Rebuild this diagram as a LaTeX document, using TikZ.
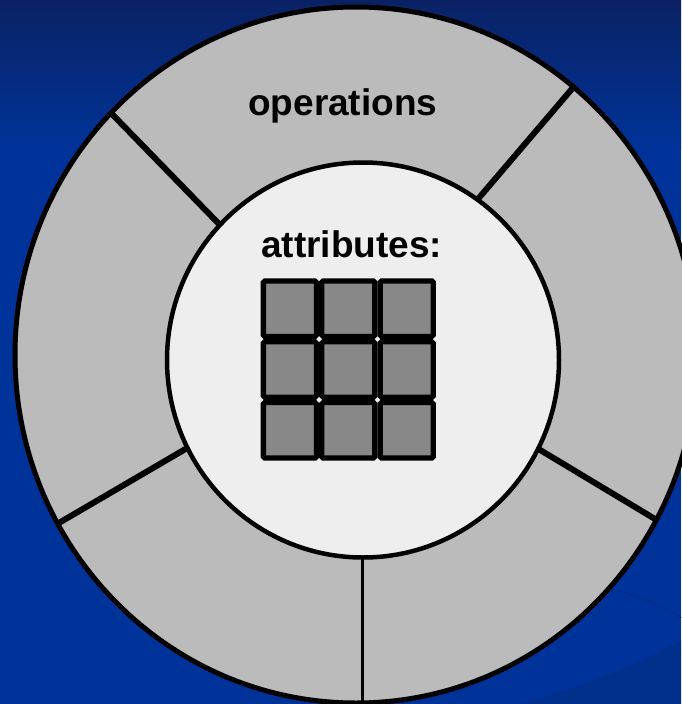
\documentclass[tikz,border=0pt]{standalone}
\usepackage{fontspec}
\setmainfont{Liberation Sans}
\usetikzlibrary{calc}
\begin{document}
\begin{tikzpicture}[x=1pt,y=-1pt,
  ringline/.style={line width=5pt, draw=black},
  divider/.style={line width=6pt, draw=black},
  thindivider/.style={line width=3pt, draw=black},
  cellbox/.style={draw=black, fill=cellgray, line width=5.3pt, rounded corners=1.5pt,
    minimum width=53.1pt, minimum height=55.5pt, inner sep=0pt, outer sep=0pt},
  label/.style={font=\fontsize{37}{44}\selectfont\bfseries, text=black, inner sep=0pt, anchor=base}]
\definecolor{bgtop}{RGB}{10,34,100}
\definecolor{bgmain}{RGB}{0,51,153}
\definecolor{swoosh}{RGB}{0,47,140}
\definecolor{ringgray}{RGB}{187,187,187}
\definecolor{innergray}{RGB}{238,238,238}
\definecolor{cellgray}{RGB}{136,136,136}
\useasboundingbox (0,0) rectangle (681,704);
% background
\fill[bgmain] (0,0) rectangle (681,704);
\shade[top color=bgtop, bottom color=bgmain] (0,0) rectangle (681,150);
\fill[swoosh] (520,704) .. controls (600,682) and (655,656) .. (681,640) -- (681,704) -- cycle;
\draw[swoosh, line width=2pt] (608,588) .. controls (640,596) and (665,607) .. (681,618);
% outer ring
\fill[ringgray] (356,355) ellipse [x radius=341, y radius=348];
\begin{scope}
  \clip (356,355) ellipse [x radius=341, y radius=348];
  \coordinate (o1) at (111,113);  \coordinate (i1) at (220,225);
  \coordinate (o2) at (571,90);   \coordinate (i2) at (478,199);
  \coordinate (o3) at (58.3,523.3); \coordinate (i3) at (186.7,448.3);
  \coordinate (o4) at (655,519);  \coordinate (i4) at (537.3,448.3);
  \coordinate (o5) at (362.5,704); \coordinate (i5) at (362.5,550);
  \draw[divider] ($(i1)!-0.1!(o1)$) -- ($(i1)!1.1!(o1)$);
  \draw[divider] ($(i2)!-0.1!(o2)$) -- ($(i2)!1.1!(o2)$);
  \draw[divider] ($(i3)!-0.1!(o3)$) -- ($(i3)!1.1!(o3)$);
  \draw[divider] ($(i4)!-0.1!(o4)$) -- ($(i4)!1.1!(o4)$);
  \draw[thindivider] (i5) -- (o5);
\end{scope}
\draw[ringline] (356,355) ellipse [x radius=341, y radius=348];
% inner disc
\draw[line width=4.5pt, fill=innergray] (363,360) ellipse [x radius=196, y radius=197.5];
% labels
\node[label] (ops) at (342.8,115) {operations};
\node[label] (attr) at (351.7,257) {attributes:};
% grid of attributes
\foreach \r/\yy in {1/308.7, 2/369.5, 3/430.3}{
  \foreach \c/\xx in {1/289.9, 2/348.3, 3/406.7}{
    \node[cellbox] (c\r\c) at (\xx,\yy) {};
  }
}
\end{tikzpicture}
\end{document}
